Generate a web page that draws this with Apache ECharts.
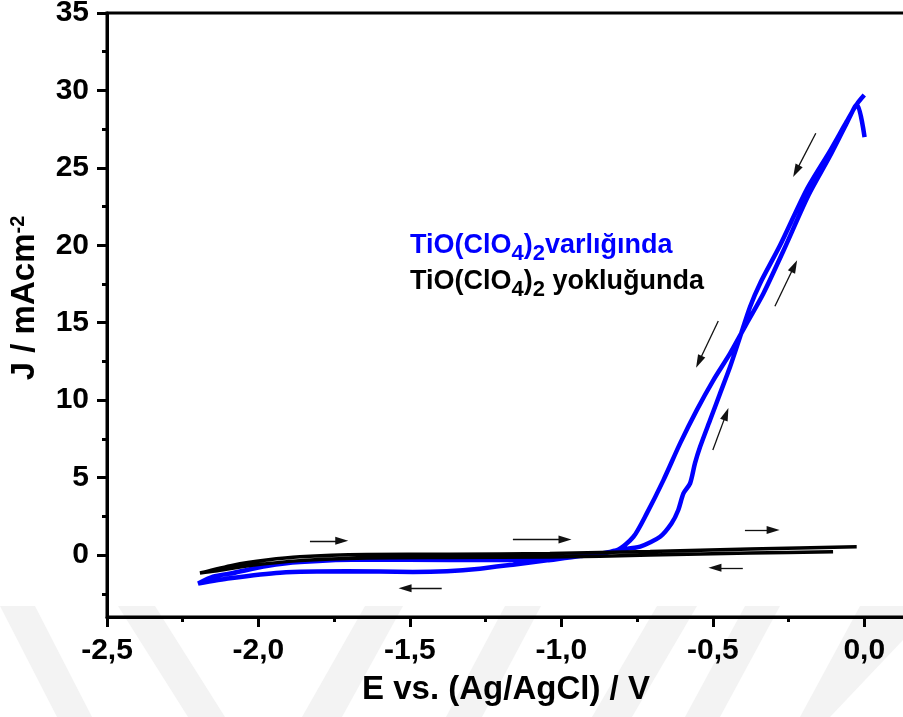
<!DOCTYPE html>
<html>
<head>
<meta charset="utf-8">
<script src="https://cdn.jsdelivr.net/npm/echarts@6/dist/echarts.min.js"></script>
<style>
  html, body { margin: 0; padding: 0; background: #fff; }
  #chart { width: 903px; height: 717px; }
</style>
</head>
<body>
<div id="chart"></div>
<script>
// blue curve: with TiO(ClO4)2, one cycle (reverse branch, lower return, forward branch)
const blueE = [0.001, -0.024, -0.060, -0.115, -0.185, -0.268, -0.333, -0.388, -0.443, -0.498, -0.553, -0.608, -0.663, -0.718, -0.762, -0.816,
  -0.938, -1.047, -1.160, -1.269, -1.378, -1.490, -1.709, -1.929, -2.094, -2.199,
  -2.150, -2.084, -1.973, -1.863, -1.643, -1.368, -1.160, -1.038, -0.872, -0.816,
  -0.740, -0.674, -0.636, -0.614, -0.597, -0.575, -0.559, -0.542, -0.509, -0.476, -0.443, -0.410, -0.377, -0.344,
  -0.278, -0.190, -0.113, -0.058, -0.025, 0.0]
const blueJ = [26.99, 29.1, 27.8, 25.7, 23.2, 19.6, 16.89, 14.96, 13.02, 11.30, 9.36, 7.21, 4.84, 2.69, 1.18, 0.32,
  -0.07, -0.34, -0.62, -0.88, -1.04, -1.09, -1.05, -1.14, -1.50, -1.84,
  -1.40, -1.16, -0.71, -0.45, -0.29, -0.32, -0.32, -0.16, 0.06, 0.32,
  0.54, 1.18, 2.05, 2.91, 3.98, 4.63, 5.92, 6.99, 8.72, 10.44, 12.16, 14.09, 16.03, 17.54,
  20.0, 23.6, 26.1, 28.0, 29.1, 29.7]

// black curve: without TiO(ClO4)2
const blackE = [-0.103, -0.377, -0.707, -1.038, -1.368, -1.643, -1.863, -2.028, -2.143, -2.193,
  -2.084, -1.973, -1.863, -1.643, -1.368, -1.038, -0.707, -0.377, -0.025]
const blackJ = [0.21, 0.13, 0.0, -0.13, -0.16, -0.19, -0.36, -0.68, -1.03, -1.16,
  -0.65, -0.32, -0.11, 0.03, 0.05, 0.10, 0.23, 0.39, 0.54]

// scan direction arrows [from, to]
const arrows = [
  [[-1.830, 0.92], [-1.725, 0.92]],
  [[-1.160, 1.01], [-0.988, 1.01]],
  [[-0.394, 1.61], [-0.301, 1.61]],
  [[-0.401, -0.82], [-0.493, -0.82]],
  [[-1.395, -2.15], [-1.516, -2.15]],
  [[-0.160, 27.24], [-0.225, 24.79]],
  [[-0.295, 16.07], [-0.231, 18.66]],
  [[-0.482, 15.11], [-0.546, 12.48]],
  [[-0.500, 6.78], [-0.456, 9.10]]
]

const xTicks = [-2.5, -2.0, -1.5, -1.0, -0.5, 0.0]
const xMinor = [-2.25, -1.75, -1.25, -0.75, -0.25]
const yTicks = [0, 5, 10, 15, 20, 25, 30, 35]
const yMinor = [-2.5, 2.5, 7.5, 12.5, 17.5, 22.5, 27.5, 32.5]

const FONT = "'Liberation Sans', Arial, sans-serif"

const zip = (a, b) => a.map((v, i) => [v, b[i]])

// faint watermark stripes at the bottom
const stripes = [
  [[0, 606], [35, 606], [92, 717], [57, 717]],
  [[118, 606], [155, 606], [225, 717], [188, 717]],
  [[365, 606], [403, 606], [342, 717], [302, 717]],
  [[505, 606], [541, 606], [482, 717], [446, 717]],
  [[657, 606], [697, 606], [632, 717], [592, 717]],
  [[745, 606], [780, 606], [720, 717], [685, 717]],
  [[860, 606], [903, 606], [903, 640], [830, 717], [800, 717]]
]

const chart = echarts.init(document.getElementById('chart'))

const axisCommon = {
  type: 'value',
  splitLine: { show: false },
  axisLine: { show: true, onZero: false, lineStyle: { color: '#000', width: 3 } },
}

chart.setOption({
  animation: false,
  backgroundColor: '#fff',
  grid: {
    left: 107, top: 13, right: -37, bottom: 100,
    show: true, borderColor: '#000', borderWidth: 3,
    outerBoundsMode: 'none'
  },
  xAxis: [
    {
      ...axisCommon,
      position: 'bottom',
      min: -2.5, max: 0.25,
      axisTick: { show: true, customValues: xTicks, length: 10, lineStyle: { color: '#000', width: 3 } },
      axisLabel: {
        customValues: xTicks, margin: 19,
        formatter: v => v.toFixed(1).replace('.', ','),
        color: '#000', fontSize: 30, fontWeight: 'bold', fontFamily: FONT
      }
    },
    {
      ...axisCommon,
      position: 'bottom',
      min: -2.5, max: 0.25,
      axisLine: { show: false, onZero: false },
      axisTick: { show: true, customValues: xMinor, length: 5, lineStyle: { color: '#000', width: 3 } },
      axisLabel: { show: false }
    }
  ],
  yAxis: [
    {
      ...axisCommon,
      position: 'left',
      min: -4, max: 35,
      axisTick: { show: true, customValues: yTicks, length: 10, lineStyle: { color: '#000', width: 3 } },
      axisLabel: {
        customValues: yTicks, margin: 18,
        color: '#000', fontSize: 30, fontWeight: 'bold', fontFamily: FONT
      }
    },
    {
      ...axisCommon,
      position: 'left',
      min: -4, max: 35,
      axisLine: { show: false, onZero: false },
      axisTick: { show: true, customValues: yMinor, length: 5, lineStyle: { color: '#000', width: 3 } },
      axisLabel: { show: false }
    }
  ],
  graphic: [
    ...stripes.map(p => ({
      type: 'polygon', z: -10, silent: true,
      shape: { points: p },
      style: { fill: '#f3f3f3' }
    })),
    {
      type: 'text', x: 25, y: 298, rotation: Math.PI / 2,
      style: {
        text: '{a|J / mAcm}{s|-2}',
        align: 'center', verticalAlign: 'middle',
        rich: {
          a: { fontSize: 33, fontWeight: 'bold', fontFamily: FONT, fill: '#000' },
          s: { fontSize: 20, fontWeight: 'bold', fontFamily: FONT, fill: '#000', padding: [0, 0, 14, 0] }
        }
      }
    },
    {
      type: 'text', x: 506, y: 690,
      style: {
        text: 'E vs. (Ag/AgCl) / V',
        align: 'center', verticalAlign: 'middle',
        font: 'bold 33px ' + FONT, fill: '#000'
      }
    },
    {
      type: 'text', x: 410, y: 246,
      style: {
        text: '{a|TiO(ClO}{s|4}{a|)}{s|2}{a|varlığında}',
        align: 'left', verticalAlign: 'middle',
        rich: {
          a: { fontSize: 27, fontWeight: 'bold', fontFamily: FONT, fill: '#0000ff' },
          s: { fontSize: 22, fontWeight: 'bold', fontFamily: FONT, fill: '#0000ff', padding: [16, 0, 0, 0] }
        }
      }
    },
    {
      type: 'text', x: 410, y: 282,
      style: {
        text: '{a|TiO(ClO}{s|4}{a|)}{s|2}{a| yokluğunda}',
        align: 'left', verticalAlign: 'middle',
        rich: {
          a: { fontSize: 27, fontWeight: 'bold', fontFamily: FONT, fill: '#000' },
          s: { fontSize: 22, fontWeight: 'bold', fontFamily: FONT, fill: '#000', padding: [16, 0, 0, 0] }
        }
      }
    }
  ],
  series: [
    {
      name: 'TiO(ClO4)2 varlığında',
      type: 'line',
      data: zip(blueE, blueJ),
      showSymbol: false,
      smooth: 0.25,
      clip: false,
      lineStyle: { color: '#0000ff', width: 4.5 },
      z: 2
    },
    {
      name: 'TiO(ClO4)2 yokluğunda',
      type: 'line',
      data: zip(blackE, blackJ),
      showSymbol: false,
      smooth: 0.25,
      clip: false,
      lineStyle: { color: '#000', width: 3.5 },
      z: 3,
      markLine: {
        silent: true,
        symbol: ['none', 'triangle'],
        symbolSize: [8, 13],
        label: { show: false },
        lineStyle: { color: '#111', width: 1.3, type: 'solid' },
        emphasis: { disabled: true },
        data: arrows.map(a => [{ coord: a[0] }, { coord: a[1] }])
      }
    }
  ]
})
</script>
</body>
</html>
